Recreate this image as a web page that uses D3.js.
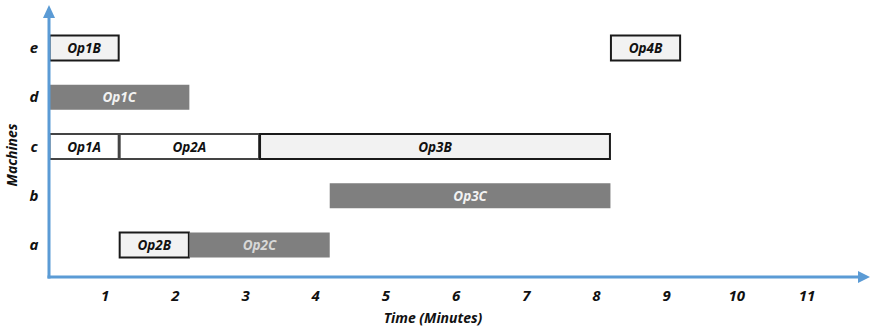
<!DOCTYPE html>
<html><head><meta charset="utf-8">
<script src="https://cdn.jsdelivr.net/npm/d3@7"></script>
<style>body{margin:0;background:#fff}svg{display:block}</style>
</head><body>
<svg id="c" width="870" height="332"></svg>
<script>
const machines = ["a","b","c","d","e"];
const timeTicks = [1,2,3,4,5,6,7,8,9,10,11];
const opNames   = ["Op1B","Op4B","Op1C","Op1A","Op2A","Op3B","Op3C","Op2B","Op2C"];
const opMachine = ["e","e","d","c","c","c","b","a","a"];
const opStart   = [0,8,0,0,1,3,4,1,2];
const opEnd     = [1,9,2,1,3,8,8,2,4];
const opKind    = ["light","light","dark","white","white","light","dark","light","dark"];

const svg = d3.select("#c");
const font = "'Open Sans', sans-serif";
const x = d3.scaleLinear().domain([0, 11.67]).range([49, 868]);
const y = d3.scalePoint().domain(machines).range([245, 48]);
const barH = 25;
const axisColor = "#5b9bd5";

const fills = {light:"#f2f2f2", white:"#ffffff", dark:"#7f7f7f"};
const strokes = {light:"#1a1a1a", white:"#444", dark:"none"};
const textCol = {light:"#111", white:"#111", dark:"#f2f2f2"};

const ops = opNames.map((n,i)=>({name:n, m:opMachine[i], s:opStart[i], e:opEnd[i], k:opKind[i]}));

const g = svg.append("g");
g.selectAll("rect.bar").data(ops).join("rect")
  .attr("class","bar")
  .attr("x", d=>x(d.s)+ (d.k==="dark"?0:0.5))
  .attr("y", d=>y(d.m)-barH/2)
  .attr("width", d=>x(d.e)-x(d.s)-(d.k==="dark"?0:1))
  .attr("height", barH)
  .attr("fill", d=>fills[d.k])
  .attr("stroke", d=>strokes[d.k])
  .attr("stroke-width", 2);

g.selectAll("text.lbl").data(ops).join("text")
  .attr("class","lbl")
  .attr("x", d=>(x(d.s)+x(d.e))/2)
  .attr("y", d=>y(d.m)+5)
  .attr("text-anchor","middle")
  .attr("font-family", font).attr("font-weight","bold").attr("font-style","italic")
  .attr("font-size", 13.5)
  .attr("fill", d=>d.name==="Op2C" ? "#d8d8d8" : textCol[d.k])
  .text(d=>d.name);

// axes
const x0 = x(0), yBase = 277;
svg.append("line").attr("x1",x0).attr("x2",x0).attr("y1",yBase+1.5).attr("y2",16)
  .attr("stroke",axisColor).attr("stroke-width",3);
svg.append("path").attr("d",`M${x0-6},18 L${x0},5 L${x0+6},18 Z`).attr("fill",axisColor);
svg.append("line").attr("x1",x0-1.5).attr("x2",860).attr("y1",yBase).attr("y2",yBase)
  .attr("stroke",axisColor).attr("stroke-width",3);
svg.append("path").attr("d",`M858,${yBase-6} L870,${yBase} L858,${yBase+6} Z`).attr("fill",axisColor);

// tick labels
svg.selectAll("text.xt").data(timeTicks).join("text")
  .attr("class","xt")
  .attr("x", d=>x(d)-14).attr("y", 301)
  .attr("text-anchor","middle")
  .attr("font-family", font).attr("font-weight","bold").attr("font-style","italic")
  .attr("font-size", 15).attr("fill","#111")
  .text(d=>d);

svg.selectAll("text.yt").data(machines).join("text")
  .attr("class","yt")
  .attr("x", 34).attr("y", d=>y(d)+5)
  .attr("text-anchor","middle")
  .attr("font-family", font).attr("font-weight","bold").attr("font-style","italic")
  .attr("font-size", 15).attr("fill","#111")
  .text(d=>d);

svg.append("text").attr("x",433).attr("y",323).attr("text-anchor","middle")
  .attr("font-family", font).attr("font-weight","bold").attr("font-style","italic")
  .attr("font-size", 14).attr("fill","#111").text("Time (Minutes)");

svg.append("text").attr("transform","translate(17,155) rotate(-90)").attr("text-anchor","middle")
  .attr("font-family", font).attr("font-weight","bold").attr("font-style","italic")
  .attr("font-size", 14).attr("fill","#111").text("Machines");
</script>
</body></html>
